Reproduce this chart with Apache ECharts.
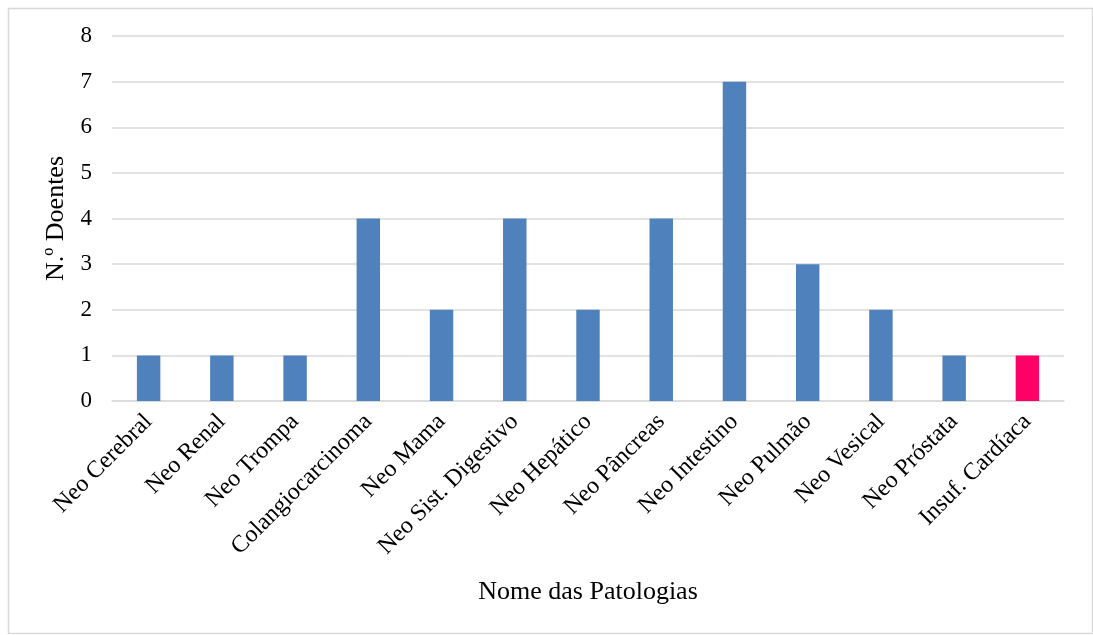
<!DOCTYPE html>
<html>
<head>
<meta charset="utf-8">
<script src="https://cdn.jsdelivr.net/npm/echarts@6/dist/echarts.min.js"></script>
<style>
  html, body { margin: 0; padding: 0; background: #fff; }
  #chart { width: 1093px; height: 635px; }
</style>
</head>
<body>
<div id="chart"></div>
<script>
// dados
const categories = [
  "Neo Cerebral", "Neo Renal", "Neo Trompa", "Colangiocarcinoma", "Neo Mama",
  "Neo Sist. Digestivo", "Neo Hepático", "Neo Pâncreas", "Neo Intestino",
  "Neo Pulmão", "Neo Vesical", "Neo Próstata", "Insuf. Cardíaca"
];
const doentes = [1, 1, 1, 4, 2, 4, 2, 4, 7, 3, 2, 1, 1];
const highlighted = ["Insuf. Cardíaca"];
const yTicks = [0, 1, 2, 3, 4, 5, 6, 7, 8];

const font = "Liberation Serif";
const blue = "#4F81BD";
const pink = "#FF0066";

let myChart = echarts.init(document.getElementById("chart"));
let option = {
  animation: false,
  textStyle: { fontFamily: font },
  graphic: [
    {
      type: "rect",
      left: 6,
      top: 6,
      shape: { width: 1084, height: 625 },
      style: { fill: "none", stroke: "#d9d9d9", lineWidth: 1.5 },
      silent: true
    }
  ],
  grid: {
    left: 112,
    right: 29,
    top: 36,
    bottom: 234
  },
  xAxis: {
    type: "category",
    data: categories,
    name: "Nome das Patologias",
    nameLocation: "middle",
    nameGap: 178,
    nameTextStyle: { color: "#000", fontSize: 26, fontFamily: font },
    axisLine: { lineStyle: { color: "#d9d9d9", width: 1.5 } },
    axisTick: { show: false },
    axisLabel: {
      interval: 0,
      rotate: 45,
      color: "#000",
      fontSize: 24,
      fontFamily: font,
      margin: 17
    }
  },
  yAxis: {
    type: "value",
    min: yTicks[0],
    max: yTicks[yTicks.length - 1],
    interval: 1,
    name: "N.º Doentes",
    nameLocation: "middle",
    nameGap: 42,
    nameRotate: 90,
    nameTextStyle: { color: "#000", fontSize: 26, fontFamily: font },
    axisLine: { show: false },
    axisTick: { show: false },
    axisLabel: { color: "#000", fontSize: 23, fontFamily: font, margin: 20 },
    splitLine: { lineStyle: { color: "#d9d9d9", width: 1.5 } }
  },
  series: [
    {
      type: "bar",
      barWidth: "32%",
      data: doentes.map((v, i) => ({
        value: v,
        itemStyle: { color: highlighted.includes(categories[i]) ? pink : blue }
      }))
    }
  ]
};
myChart.setOption(option);
</script>
</body>
</html>
